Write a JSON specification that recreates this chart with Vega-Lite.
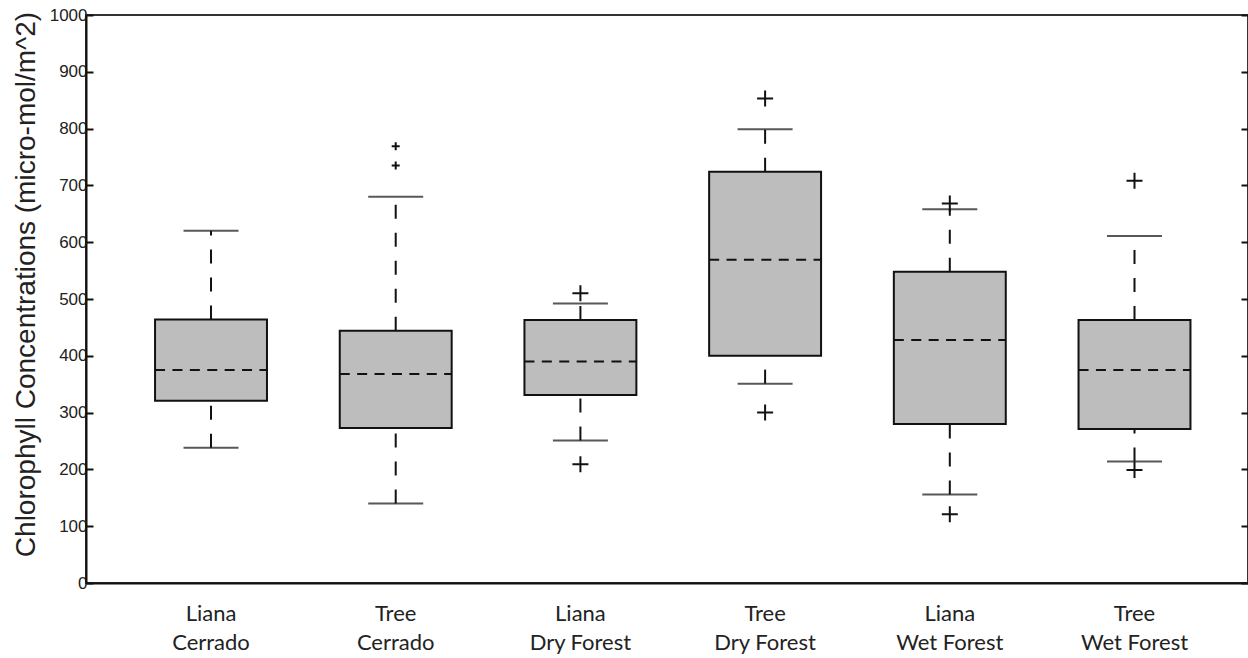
{
  "$schema": "https://vega.github.io/schema/vega-lite/v6.json",
  "width": 1162,
  "height": 568,
  "autosize": {"type": "none"},
  "padding": {"left": 86, "top": 15, "right": 0, "bottom": 75},
  "background": "white",
  "config": {
    "view": {"stroke": "#333333", "strokeWidth": 2},
    "font": "Liberation Sans"
  },
  "datasets": {
    "boxes": [
      {"group": "Liana Cerrado", "lower": 238, "q1": 321, "median": 375, "q3": 464, "upper": 620},
      {"group": "Tree Cerrado", "lower": 140, "q1": 273, "median": 368, "q3": 444, "upper": 680},
      {"group": "Liana Dry Forest", "lower": 251, "q1": 331, "median": 390, "q3": 463, "upper": 492},
      {"group": "Tree Dry Forest", "lower": 351, "q1": 400, "median": 569, "q3": 724, "upper": 799},
      {"group": "Liana Wet Forest", "lower": 156, "q1": 280, "median": 428, "q3": 548, "upper": 658},
      {"group": "Tree Wet Forest", "lower": 214, "q1": 271, "median": 375, "q3": 463, "upper": 611}
    ],
    "outliers": [
      {"group": "Tree Cerrado", "value": 769},
      {"group": "Tree Cerrado", "value": 735},
      {"group": "Liana Dry Forest", "value": 510},
      {"group": "Liana Dry Forest", "value": 209},
      {"group": "Tree Dry Forest", "value": 853},
      {"group": "Tree Dry Forest", "value": 300},
      {"group": "Liana Wet Forest", "value": 668},
      {"group": "Liana Wet Forest", "value": 121},
      {"group": "Tree Wet Forest", "value": 708},
      {"group": "Tree Wet Forest", "value": 199}
    ]
  },
  "resolve": {"axis": {"y": "independent"}},
  "layer": [
    {
      "data": {"name": "boxes"},
      "mark": {"type": "rule", "strokeDash": [14, 14], "strokeWidth": 2, "color": "#111111"},
      "encoding": {
        "x": {"field": "group", "type": "nominal", "title": null,
              "scale": {"domain": ["Liana Cerrado", "Tree Cerrado", "Liana Dry Forest", "Tree Dry Forest", "Liana Wet Forest", "Tree Wet Forest"], "paddingInner": 0, "paddingOuter": 0.1457, "align": 0.607},
              "axis": {"ticks": false, "domainColor": "#111111", "domainWidth": 2, "labelAngle": 0, "labelFont": "Lato", "labelFontSize": 22, "labelColor": "#222222", "labelPadding": 20, "labelLineHeight": 29, "labelExpr": "[slice(datum.label, 0, indexof(datum.label, ' ')), slice(datum.label, indexof(datum.label, ' ') + 1)]"}},
        "y": {"field": "q3", "type": "quantitative", "title": "Chlorophyll Concentrations (micro-mol/m^2)",
              "scale": {"domain": [0, 1000], "nice": false, "zero": true},
              "axis": {"orient": "left", "values": [0, 100, 200, 300, 400, 500, 600, 700, 800, 900, 1000], "format": "d", "grid": false, "tickSize": -7, "tickWidth": 2, "tickColor": "#111111", "domainColor": "#111111", "domainWidth": 2, "labelFont": "Liberation Sans", "labelFontSize": 17, "labelColor": "#222222", "labelPadding": 6, "titleFont": "Liberation Sans", "titleFontSize": 28, "titleFontWeight": "normal", "titleColor": "#222222", "titleX": -52, "titleY": 269, "titleBaseline": "alphabetic", "titleAlign": "center", "titleAngle": -90}},
        "y2": {"field": "upper"}
      }
    },
    {
      "data": {"name": "boxes"},
      "mark": {"type": "rule", "strokeDash": [14, 14], "strokeWidth": 2, "color": "#111111"},
      "encoding": {
        "x": {"field": "group", "type": "nominal", "title": null},
        "y": {"field": "lower", "type": "quantitative", "axis": {"orient": "right", "values": [0, 100, 200, 300, 400, 500, 600, 700, 800, 900, 1000], "labels": false, "domain": false, "grid": false, "tickSize": -7, "tickWidth": 2, "tickColor": "#111111", "title": null}},
        "y2": {"field": "q1"}
      }
    },
    {
      "data": {"name": "boxes"},
      "mark": {"type": "tick", "size": 55, "thickness": 2, "color": "#111111", "orient": "horizontal"},
      "encoding": {
        "x": {"field": "group", "type": "nominal", "title": null},
        "y": {"field": "upper", "type": "quantitative", "axis": null}
      }
    },
    {
      "data": {"name": "boxes"},
      "mark": {"type": "tick", "size": 55, "thickness": 2, "color": "#111111", "orient": "horizontal"},
      "encoding": {
        "x": {"field": "group", "type": "nominal", "title": null},
        "y": {"field": "lower", "type": "quantitative", "axis": null}
      }
    },
    {
      "data": {"name": "boxes"},
      "mark": {"type": "bar", "width": {"band": 0.606}, "fill": "#bcbdbc", "stroke": "#111111", "strokeWidth": 2},
      "encoding": {
        "x": {"field": "group", "type": "nominal", "title": null},
        "y": {"field": "q1", "type": "quantitative", "axis": null},
        "y2": {"field": "q3"}
      }
    },
    {
      "data": {"name": "boxes"},
      "mark": {"type": "rule", "strokeDash": [10, 7.4], "strokeWidth": 2, "color": "#111111"},
      "encoding": {
        "x": {"field": "group", "type": "nominal", "title": null, "bandPosition": 0.197},
        "x2": {"field": "group", "bandPosition": 0.803},
        "y": {"field": "median", "type": "quantitative", "axis": null}
      }
    },
    {
      "data": {"name": "outliers"},
      "mark": {"type": "point", "shape": "M-1,0L1,0M0,-1L0,1", "filled": false, "strokeWidth": 2, "color": "#111111", "opacity": 1},
      "encoding": {
        "x": {"field": "group", "type": "nominal", "title": null},
        "y": {"field": "value", "type": "quantitative", "axis": null},
        "size": {"condition": {"test": "datum.group === 'Tree Cerrado'", "value": 64}, "value": 256}
      }
    }
  ]
}
